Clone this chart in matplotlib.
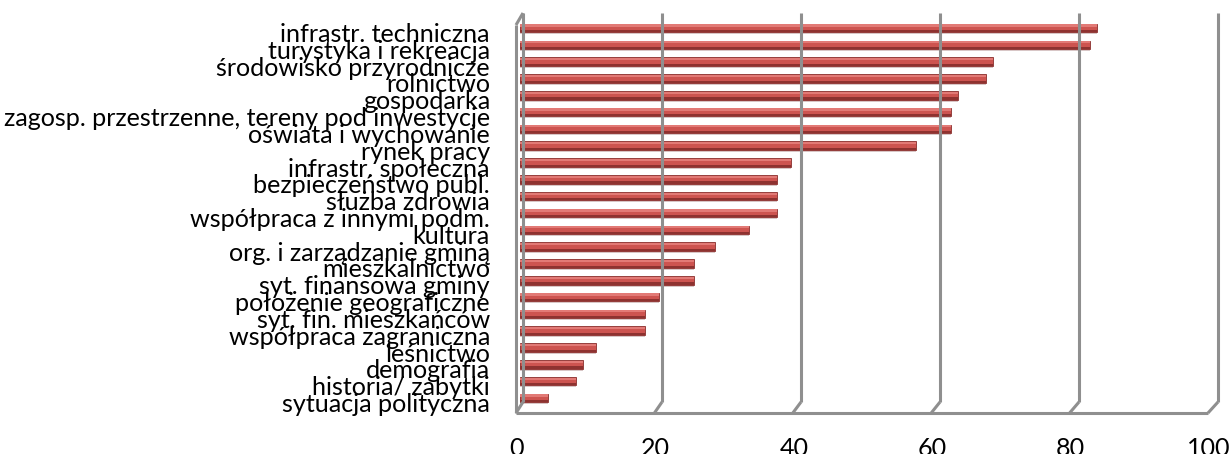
import matplotlib
matplotlib.use("Agg")
import matplotlib.pyplot as plt
from matplotlib.lines import Line2D
from matplotlib.transforms import ScaledTranslation, IdentityTransform

categories = [
    "infrastr. techniczna",
    "turystyka i rekreacja",
    "środowisko przyrodnicze",
    "rolnictwo",
    "gospodarka",
    "zagosp. przestrzenne, tereny pod inwestycje",
    "oświata i wychowanie",
    "rynek pracy",
    "infrastr. społeczna",
    "bezpieczeństwo publ.",
    "służba zdrowia",
    "współpraca z innymi podm.",
    "kultura",
    "org. i zarządzanie gminą",
    "mieszkalnictwo",
    "syt. finansowa gminy",
    "położenie geograficzne",
    "syt. fin. mieszkańców",
    "współpraca zagraniczna",
    "leśnictwo",
    "demografia",
    "historia/ zabytki",
    "sytuacja polityczna",
]
values = [83, 82, 68, 67, 63, 62, 62, 57, 39, 37, 37, 37, 33, 28, 25, 25, 20, 18, 18, 11, 9, 8, 4]
x_ticks = [0, 20, 40, 60, 80, 100]
x_tick_labels = ["0", "20", "40", "60", "80", "100"]

W, H, DPI = 1229, 454, 100
FONT = "Lato"
fig = plt.figure(figsize=(W / DPI, H / DPI), dpi=DPI)
fig.patch.set_facecolor("white")

# plot area in pixels (from top): x 520..1215, y 13..413
ax = fig.add_axes([520 / W, (H - 413) / H, 695 / W, 400 / H])
ax.set_xlim(0, 100)
y_top, y_bot = -0.892, 22.892
ax.set_ylim(y_bot, y_top)
ax.axis("off")
ax.set_facecolor("none")

ypos = list(range(len(categories)))
px_per_unit_y = 400 / (y_bot - y_top)

# bars (3D-ish look)
bar_h = 8.5 / px_per_unit_y
strip = 2.2 / px_per_unit_y
shadow = [y + 2.0 / px_per_unit_y for y in ypos]
ax.barh(shadow, values, height=bar_h, color="#d8c6c6", zorder=3, linewidth=0)
ax.barh(ypos, values, height=bar_h, color="#cd5450", zorder=4, linewidth=0.6, edgecolor="#8a2f2d")
top_strip = [y - bar_h / 2 + strip / 2 + 0.6 / px_per_unit_y for y in ypos]
ax.barh(top_strip, values, height=strip, color="#e27a76", zorder=5, linewidth=0)
bot_strip = [y + bar_h / 2 - strip / 2 for y in ypos]
ax.barh(bot_strip, values, height=strip, color="#8e3230", zorder=5, linewidth=0)

# grid walls drawn in display pixels derived from data transform
fig.canvas.draw()
def P(v, y, dx=0.0, dy=0.0):
    X, Y = ax.transData.transform((v, y))
    return X + dx, Y + dy

y_back_floor = y_top + (402 - 13) / px_per_unit_y
y_left_top = y_top + (25 - 13) / px_per_unit_y
grid_col = "#8f8f8f"
lw = 2.2

def seg(p1, p2):
    fig.add_artist(Line2D([p1[0], p2[0]], [p1[1], p2[1]], transform=IdentityTransform(),
                          color=grid_col, lw=lw, solid_capstyle="butt", zorder=1))

def front_dx(v):
    return -4 - 0.03 * v

for v in x_ticks:
    back_top = P(v, y_top, 3)
    back_bot = P(v, y_back_floor, 3)
    front_bot = P(v, y_bot, front_dx(v))
    seg(back_top, back_bot)
    seg(back_bot, front_bot)
# left wall front edge
seg(P(0, y_left_top, front_dx(0)), P(0, y_bot, front_dx(0)))
seg(P(0, y_left_top, front_dx(0)), P(0, y_top, 3))
# floor front edge
seg(P(0, y_bot, front_dx(0)), P(100, y_bot, front_dx(100)))

# category labels: right edge at x=490, baseline 14 px below bar centre
renderer = fig.canvas.get_renderer()
probe = fig.text(0, 0, categories[5], fontsize=18, family=FONT)
wpx = probe.get_window_extent(renderer).width
probe.remove()
fs = 18 * 487 / wpx

ax.set_yticks(ypos)
ax.set_xticks(x_ticks)
for y, lab in zip(ypos, categories):
    X, Y = P(0, y, 0, -14)
    ax.annotate(lab, xy=(0, y), xycoords="data", xytext=(490 - 520, -14), textcoords="offset pixels",
                ha="right", va="baseline", fontsize=fs, family=FONT, color="#000000")

for v, lab in zip(x_ticks, x_tick_labels):
    ax.annotate(lab, xy=(v, y_bot), xycoords="data", xytext=(front_dx(v) + 1, -24), textcoords="offset pixels",
                ha="center", va="top", fontsize=fs, family=FONT, color="#000000")

fig.savefig("out.png", dpi=DPI, facecolor="white")
